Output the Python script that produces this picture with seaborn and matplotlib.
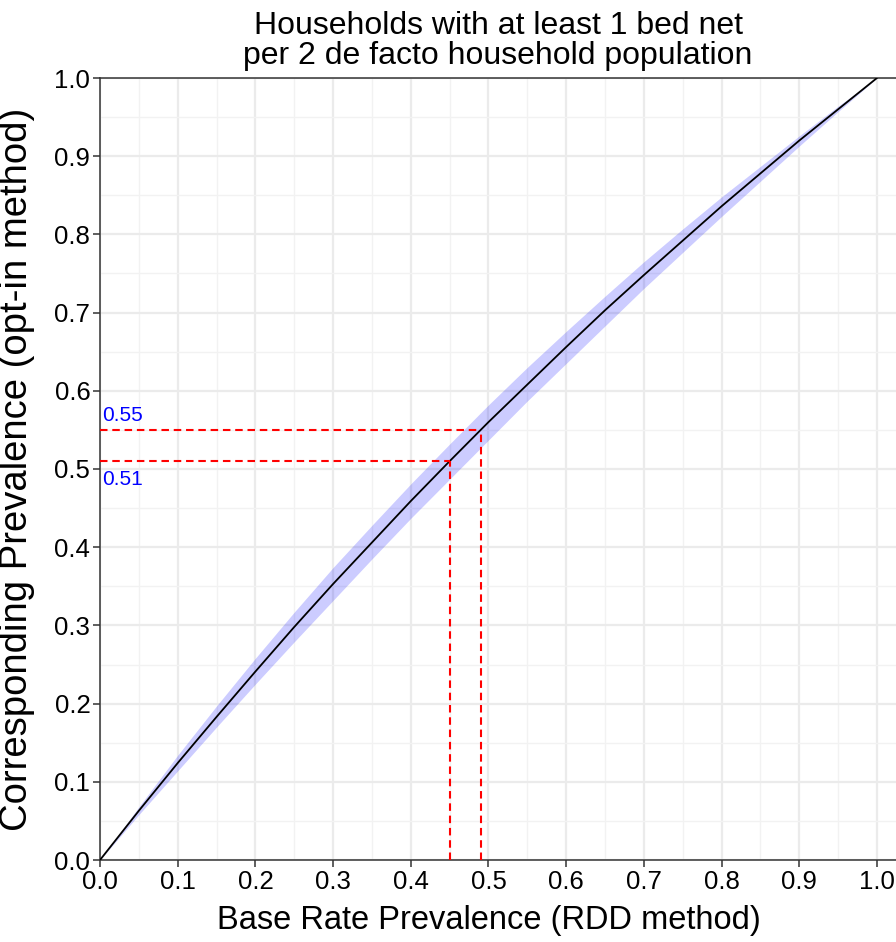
import matplotlib
matplotlib.use("Agg")
import matplotlib.pyplot as plt
import seaborn as sns
import numpy as np
import pandas as pd

# Values
base_rate = [0.0, 0.05, 0.10, 0.15, 0.20, 0.25, 0.30, 0.35, 0.40, 0.45, 0.50,
             0.55, 0.60, 0.65, 0.70, 0.75, 0.80, 0.85, 0.90, 0.95, 1.0]
corresponding = [0.0, 0.063, 0.124, 0.183, 0.241, 0.298, 0.353, 0.406, 0.459, 0.510, 0.560,
                 0.608, 0.656, 0.703, 0.748, 0.792, 0.836, 0.878, 0.920, 0.960, 1.0]
lower = [0.0, 0.058, 0.114, 0.170, 0.225, 0.279, 0.332, 0.385, 0.437, 0.487, 0.537,
         0.587, 0.635, 0.683, 0.731, 0.777, 0.823, 0.868, 0.913, 0.957, 1.0]
upper = [0.0, 0.068, 0.134, 0.197, 0.258, 0.317, 0.374, 0.428, 0.481, 0.532, 0.582,
         0.630, 0.676, 0.721, 0.765, 0.807, 0.848, 0.887, 0.926, 0.964, 1.0]

# reference lines: (x on RDD scale, y on opt-in scale)
ref_x = [0.45, 0.49]
ref_y = [0.51, 0.55]
ref_labels = ["0.51", "0.55"]
label_y = [0.487, 0.569]

df = pd.DataFrame({"x": base_rate, "y": corresponding, "lo": lower, "hi": upper})

sns.set_theme(style="whitegrid")
plt.rcParams['font.family'] = ['Liberation Sans', 'DejaVu Sans']
plt.rcParams['text.color'] = 'black'
plt.rcParams['axes.labelcolor'] = 'black'

fig = plt.figure(figsize=(8.96, 9.42), dpi=100)
ax = fig.add_axes([100 / 896, 82 / 942, 796 / 896, 782 / 942])
ax.set_facecolor("white")

ax.fill_between(df["x"], df["lo"], df["hi"], color="blue", alpha=0.2, linewidth=0, zorder=2)
sns.lineplot(data=df, x="x", y="y", color="black", linewidth=1.3, ax=ax, zorder=3)

for rx, ry in zip(ref_x, ref_y):
    ax.plot([0, rx], [ry, ry], color="red", linestyle=(0, (3.6, 2.3)), linewidth=1.5, zorder=4)
    ax.plot([rx, rx], [0, ry], color="red", linestyle=(0, (3.6, 2.3)), linewidth=1.5, zorder=4)

for txt, ly in zip(ref_labels, label_y):
    ax.text(0.003, ly, txt, color="blue", fontsize=15, ha="left", va="center", zorder=5)

ax.set_xlim(0, 1.0245)
ax.set_ylim(0, 1.0)
ticks = np.round(np.arange(0, 1.01, 0.1), 1)
ax.set_xticks(ticks)
ax.set_yticks(ticks)
ax.set_xticklabels([f"{t:.1f}" for t in ticks])
ax.set_yticklabels([f"{t:.1f}" for t in ticks])
ax.set_xticks(np.arange(0.05, 1.02, 0.1), minor=True)
ax.set_yticks(np.arange(0.05, 1.0, 0.1), minor=True)

ax.grid(which="major", color="#EBEBEB", linewidth=1.6)
ax.grid(which="minor", color="#F2F2F2", linewidth=1.0)
ax.tick_params(which="major", axis="both", direction="out", length=5, width=1.1,
               color="#333333", labelsize=18.5, labelcolor="black", pad=2,
               bottom=True, left=True)
ax.tick_params(which="minor", length=0)

for side in ["left", "bottom", "top"]:
    ax.spines[side].set_visible(True)
    ax.spines[side].set_color("#333333")
    ax.spines[side].set_linewidth(1.1)
ax.spines["right"].set_visible(False)

ax.set_xlabel("Base Rate Prevalence (RDD method)", fontsize=23.5)
ax.set_ylabel("Corresponding Prevalence (opt-in method)", fontsize=27.5)
ax.xaxis.set_label_coords(389 / 796, -0.058)
ax.yaxis.set_label_coords(-0.082, 0.5)
ax.set_title("Households with at least 1 bed net\nper 2 de facto household population",
             fontsize=23, pad=10, linespacing=1.0)

fig.savefig("out.png", dpi=100)
